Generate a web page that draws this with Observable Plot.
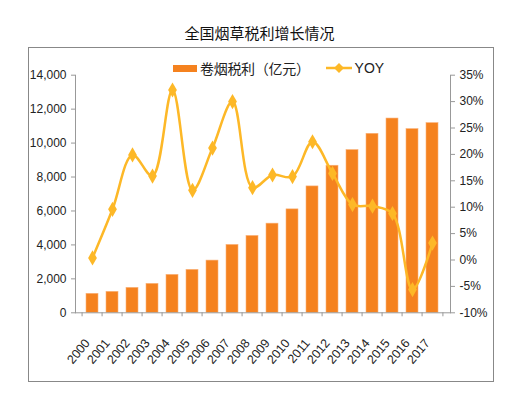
<!DOCTYPE html>
<html><head><meta charset="utf-8">
<script src="https://cdn.jsdelivr.net/npm/d3@7"></script>
<script src="https://cdn.jsdelivr.net/npm/@observablehq/plot@0.6"></script>
<style>
body{margin:0;background:#fff;font-family:"Liberation Sans",Arial,sans-serif;}
#wrap{position:relative;width:519px;height:396px;overflow:hidden;}
#title{position:absolute;left:0;width:519px;top:22px;text-align:center;font:15px "Noto Sans CJK SC","Liberation Sans",sans-serif;color:#111;}
#box{position:absolute;left:28px;top:47px;width:464px;height:333px;border:1px solid #888;}
#legend{position:absolute;top:58px;left:173px;font:14px "Liberation Sans","Noto Sans CJK SC",sans-serif;color:#222;display:flex;align-items:center;}
#chart{position:absolute;left:0;top:0;}
</style></head>
<body><div id="wrap"><div id="title">全国烟草税利增长情况</div><div id="box"></div><div id="chart"></div>
<div id="legend"><span style="display:inline-block;width:24px;height:7px;background:#F5821F;margin-right:3px"></span><span style="font-family:'Noto Sans CJK SC';font-size:14px;letter-spacing:-0.3px">卷烟税利（亿元）</span>
<svg width="28" height="12" style="margin-left:16px"><line x1="0" y1="6" x2="26" y2="6" stroke="#FDB827" stroke-width="2.5"/><path d="M13,1 L18,6 L13,11 L8,6 Z" fill="#FDB827"/></svg><span style="margin-left:1px">YOY</span></div>
</div>
<script>
const years = ["2000","2001","2002","2003","2004","2005","2006","2007","2008","2009","2010","2011","2012","2013","2014","2015","2016","2017"];
const taxProfit = [1118,1235,1470,1705,2235,2530,3076,4000,4529,5253,6094,7447,8665,9588,10547,11447,10823,11176];
const yoy = [0.4,9.6,19.9,15.9,32.2,13.2,21.2,30.0,13.7,16.1,15.8,22.4,16.4,10.5,10.2,8.8,-5.6,3.2];
const leftTicks = [0,2000,4000,6000,8000,10000,12000,14000];
const rightTicks = [-10,-5,0,5,10,15,20,25,30,35];

const toLeft = v => (v + 10) / 45 * 14000;
const bars = years.map((y,i)=>({year:y, value:taxProfit[i]}));
const line = years.map((y,i)=>({year:y, value:toLeft(yoy[i])}));
const fmt = d3.format(",");
const plotW = 519 - 75 - 69;
const half = plotW / years.length / 2;

const chart = Plot.plot({
  width: 519, height: 396,
  marginLeft: 75, marginRight: 69, marginTop: 74.7, marginBottom: 83.7,
  style: {fontFamily: "Liberation Sans, Arial, sans-serif", fontSize: "12px", color: "#222", background: "transparent"},
  x: {type: "band", domain: years, paddingInner: 0.39, paddingOuter: 0.195, label: null},
  y: {domain: [0,14000], label: null},
  marks: [
    Plot.barY(bars, {x:"year", y:"value", fill:"#F5821F", stroke:"#FAB27A", strokeWidth:0.6}),
    Plot.line(line, {x:"year", y:"value", stroke:"#FDB827", strokeWidth:2.5, curve:"catmull-rom"}),
    Plot.dot(line, {x:"year", y:"value", symbol:"diamond", r:4.6, fill:"#FDB827"}),
    Plot.frame({anchor:"left", stroke:"#999"}),
    Plot.frame({anchor:"right", stroke:"#999"}),
    Plot.frame({anchor:"bottom", stroke:"#999"}),
    Plot.axisY({anchor:"left", ticks:leftTicks, tickFormat:fmt, tickSize:4, tickPadding:5, stroke:"#999", fontSize:12, color:"#222", label:null}),
    Plot.axisY({anchor:"right", ticks:rightTicks.map(toLeft), tickFormat:(d)=>Math.round(d/14000*45-10)+"%", tickSize:4, tickPadding:5, stroke:"#999", fontSize:12, label:null}),
    Plot.axisX({ticks: years, tickSize:4, text:null, stroke:"#999", dx:-half, label:null}),
    Plot.axisX({ticks: [years[years.length-1]], tickSize:4, text:null, stroke:"#999", dx:half, label:null}),
    Plot.axisX({tickRotate:-50, tickSize:0, tickPadding:4, fontSize:12.5, label:null, dx:-5, dy:24})
  ]
});
document.getElementById("chart").appendChild(chart);
</script></body></html>
